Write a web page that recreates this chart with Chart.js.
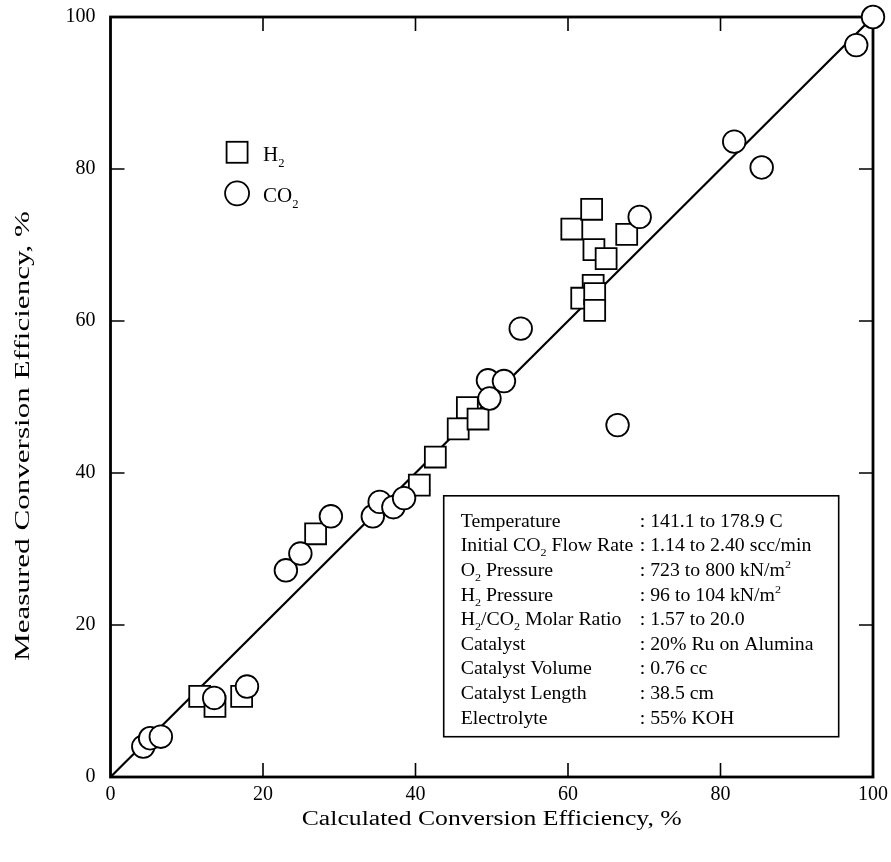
<!DOCTYPE html>
<html>
<head>
<meta charset="utf-8">
<script src="https://cdn.jsdelivr.net/npm/chart.js@4.4.1/dist/chart.umd.min.js"></script>
<style>
  html, body { margin: 0; padding: 0; background: #fff; }
  #wrap { width: 891px; height: 862px; position: relative; }
</style>
</head>
<body>
<div id="wrap"><canvas id="c" width="891" height="862"></canvas></div>
<script>
// ---- data ----
const tickValues = [0, 20, 40, 60, 80, 100];

const h2X = [11.7, 13.7, 17.2, 26.9, 40.5, 42.6, 45.6, 46.8, 48.2, 60.5, 63.1, 63.4, 65.0, 67.7, 63.3, 61.8, 63.5, 63.5];
const h2Y = [10.6, 9.3, 10.6, 32.0, 38.4, 42.1, 45.8, 48.6, 47.1, 72.1, 74.7, 69.4, 68.2, 71.4, 64.7, 63.0, 63.6, 61.4];

const co2X = [4.3, 5.2, 6.6, 13.6, 17.9, 23.0, 24.9, 28.9, 34.4, 35.3, 37.1, 38.5, 49.5, 49.7, 51.6, 53.8, 66.5, 69.4, 81.8, 85.4, 97.8, 100];
const co2Y = [4.0, 5.1, 5.3, 10.4, 11.9, 27.2, 29.4, 34.3, 34.3, 36.2, 35.5, 36.7, 52.2, 49.8, 52.1, 59.0, 46.3, 73.7, 83.6, 80.2, 96.3, 100];

const lineX = [0, 100];
const lineY = [0, 100];

const legendLabels = ["H_{2}", "CO_{2}"];

const infoLabels = ["Temperature", "Initial CO_{2} Flow Rate", "O_{2} Pressure", "H_{2} Pressure",
  "H_{2}/CO_{2} Molar Ratio", "Catalyst", "Catalyst Volume", "Catalyst Length", "Electrolyte"];
const infoValues = [": 141.1 to 178.9 C", ": 1.14 to 2.40 scc/min", ": 723 to 800 kN/m^{2}", ": 96 to 104 kN/m^{2}",
  ": 1.57 to 20.0", ": 20% Ru on Alumina", ": 0.76 cc", ": 38.5 cm", ": 55% KOH"];

const xTitle = "Calculated Conversion Efficiency, %";
const yTitle = "Measured Conversion Efficiency, %";

// ---- helpers ----
const SERIF = '"Liberation Serif", "Times New Roman", serif';
const zip = (xs, ys) => xs.map((v, i) => ({ x: v, y: ys[i] }));

function parseRich(s) {
  const out = [];
  const re = /([_^])\{([^}]*)\}/g;
  let last = 0, m;
  while ((m = re.exec(s))) {
    if (m.index > last) out.push({ t: s.slice(last, m.index), k: null });
    out.push({ t: m[2], k: m[1] === '_' ? 'sub' : 'sup' });
    last = re.lastIndex;
  }
  if (last < s.length) out.push({ t: s.slice(last), k: null });
  return out;
}
function drawRich(ctx, s, x, y, size, sx) {
  ctx.save();
  ctx.translate(x, y);
  ctx.scale(sx || 1, 1);
  let cx = 0;
  for (const seg of parseRich(s)) {
    if (seg.k) {
      ctx.font = `${Math.round(size * 0.62)}px ${SERIF}`;
      const dy = seg.k === 'sub' ? size * 0.28 : -size * 0.42;
      ctx.fillText(seg.t, cx, dy);
    } else {
      ctx.font = `${size}px ${SERIF}`;
      ctx.fillText(seg.t, cx, 0);
    }
    cx += ctx.measureText(seg.t).width;
  }
  ctx.restore();
}
function fitText(ctx, text, cx, cy, width, rot) {
  ctx.save();
  ctx.translate(cx, cy);
  if (rot) ctx.rotate(rot);
  const w = ctx.measureText(text).width;
  ctx.scale(width / w, 1);
  ctx.textAlign = 'center';
  ctx.textBaseline = 'middle';
  ctx.fillText(text, 0, 0);
  ctx.restore();
}

const framePlugin = {
  id: 'frame',
  beforeDatasetsDraw(chart) {
    const { ctx, chartArea: a, scales: { x, y } } = chart;
    ctx.save();
    ctx.strokeStyle = '#000';
    ctx.lineWidth = 1.6;
    const TL = 14;
    ctx.beginPath();
    tickValues.forEach(v => {
      if (v === 0 || v === 100) return;
      const px = x.getPixelForValue(v);
      ctx.moveTo(px, a.bottom); ctx.lineTo(px, a.bottom - TL);
      ctx.moveTo(px, a.top); ctx.lineTo(px, a.top + TL);
      const py = y.getPixelForValue(v);
      ctx.moveTo(a.left, py); ctx.lineTo(a.left + TL, py);
      ctx.moveTo(a.right, py); ctx.lineTo(a.right - TL, py);
    });
    ctx.stroke();
    ctx.lineWidth = 2.8;
    ctx.strokeRect(a.left, a.top, a.right - a.left, a.bottom - a.top);
    ctx.restore();
  },
  afterDatasetsDraw(chart) {
    const { ctx, chartArea: a, scales: { x, y } } = chart;
    ctx.save();
    ctx.fillStyle = '#000';
    ctx.strokeStyle = '#000';

    // legend (inside plot, upper-left)
    const lx = x.getPixelForValue(16.6);
    const ly1 = y.getPixelForValue(82.2);
    const ly2 = y.getPixelForValue(76.8);
    ctx.lineWidth = 1.8;
    ctx.fillStyle = '#fff';
    ctx.fillRect(lx - 10.5, ly1 - 10.5, 21, 21);
    ctx.strokeRect(lx - 10.5, ly1 - 10.5, 21, 21);
    ctx.beginPath(); ctx.arc(lx, ly2, 12, 0, Math.PI * 2); ctx.fill(); ctx.stroke();
    ctx.fillStyle = '#000';
    ctx.textAlign = 'left';
    ctx.textBaseline = 'alphabetic';
    drawRich(ctx, legendLabels[0], lx + 26, ly1 + 9, 20, 1.05);
    drawRich(ctx, legendLabels[1], lx + 26, ly2 + 9, 20, 1.05);

    // info box
    const bL = x.getPixelForValue(43.7), bR = x.getPixelForValue(95.5);
    const bT = y.getPixelForValue(37.0), bB = y.getPixelForValue(5.3);
    ctx.fillStyle = '#fff';
    ctx.fillRect(bL, bT, bR - bL, bB - bT);
    ctx.lineWidth = 1.6;
    ctx.strokeRect(bL, bT, bR - bL, bB - bT);
    ctx.fillStyle = '#000';
    infoLabels.forEach((lab, i) => {
      const by = bT + 31 + i * 24.6;
      drawRich(ctx, lab, bL + 17, by, 18, 1.1);
      drawRich(ctx, infoValues[i], bL + 196, by, 18, 1.1);
    });

    // axis titles
    ctx.font = `20px ${SERIF}`;
    fitText(ctx, xTitle, (a.left + a.right) / 2, 820, 380, 0);
    ctx.font = `21px ${SERIF}`;
    fitText(ctx, yTitle, 23, 436, 450, -Math.PI / 2);
    ctx.restore();
  }
};

new Chart(document.getElementById('c'), {
  type: 'scatter',
  data: {
    datasets: [
      {
        label: 'CO2', data: zip(co2X, co2Y), order: 1,
        pointStyle: 'circle', pointRadius: 11.3, borderWidth: 1.8,
        borderColor: '#000', backgroundColor: '#fff', clip: false
      },
      {
        label: 'H2', data: zip(h2X, h2Y), order: 2,
        pointStyle: 'rect', pointRadius: 14.8, borderWidth: 1.8,
        borderColor: '#000', backgroundColor: '#fff', clip: false
      },
      {
        label: 'fit', data: zip(lineX, lineY), order: 3, showLine: true,
        pointRadius: 0, borderWidth: 2.2, borderColor: '#000', clip: false
      }
    ]
  },
  options: {
    responsive: false,
    animation: false,
    events: [],
    layout: { padding: { top: 17, right: 18, left: 0, bottom: 0 } },
    plugins: { legend: { display: false }, tooltip: { enabled: false } },
    scales: {
      x: {
        type: 'linear', min: 0, max: 100,
        afterBuildTicks: s => { s.ticks = tickValues.map(v => ({ value: v })); },
        afterFit: s => { s.height = 85; s.paddingLeft = 0; s.paddingRight = 0; },
        grid: { display: false, drawTicks: false },
        border: { display: false },
        ticks: { color: '#000', font: { family: SERIF, size: 20 }, padding: 6, maxRotation: 0 }
      },
      y: {
        type: 'linear', min: 0, max: 100,
        afterBuildTicks: s => { s.ticks = tickValues.map(v => ({ value: v })); },
        afterFit: s => { s.width = 110.5; s.paddingTop = 0; s.paddingBottom = 0; },
        grid: { display: false, drawTicks: false },
        border: { display: false },
        ticks: { color: '#000', font: { family: SERIF, size: 20 }, padding: 15 }
      }
    }
  },
  plugins: [framePlugin]
});
</script>
</body>
</html>
